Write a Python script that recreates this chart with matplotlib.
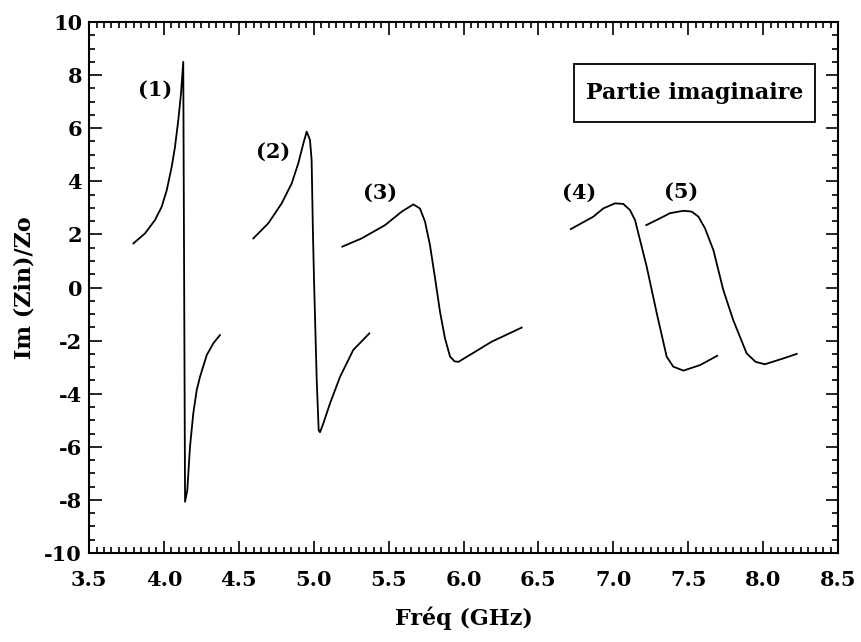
import numpy as np
import matplotlib
matplotlib.use("Agg")
import matplotlib.pyplot as plt
from matplotlib.ticker import MultipleLocator, FormatStrFormatter
from matplotlib.patches import Rectangle

plt.rcParams['font.family'] = ['DejaVu Serif']
plt.rcParams['font.weight'] = 'bold'
plt.rcParams['axes.unicode_minus'] = False

# curves (frequency in GHz, Im(Zin)/Zo)
c1_x = [3.796, 3.874, 3.94, 3.985, 4.019, 4.052, 4.074, 4.096, 4.114, 4.129, 4.135, 4.141,
        4.156, 4.174, 4.196, 4.219, 4.241, 4.286, 4.33, 4.374]
c1_y = [1.66, 2.04, 2.54, 3.04, 3.67, 4.55, 5.30, 6.31, 7.31, 8.50, 0.28, -8.07,
        -7.63, -6.0, -4.74, -3.86, -3.36, -2.54, -2.1, -1.79]

c2_x = [4.597, 4.697, 4.786, 4.853, 4.897, 4.931, 4.953, 4.975, 4.986, 4.995, 5.002, 5.02,
        5.033, 5.042, 5.064, 5.109, 5.176, 5.264, 5.371]
c2_y = [1.85, 2.42, 3.17, 3.92, 4.68, 5.43, 5.87, 5.56, 4.80, 2.0, 0.28, -3.48,
        -5.37, -5.45, -5.12, -4.36, -3.36, -2.35, -1.73]

c3_x = [5.191, 5.32, 5.476, 5.588, 5.665, 5.709, 5.743, 5.776, 5.81, 5.843, 5.876,
        5.91, 5.94, 5.966, 6.054, 6.188, 6.388]
c3_y = [1.54, 1.85, 2.35, 2.86, 3.13, 2.98, 2.48, 1.6, 0.35, -0.91, -1.91,
        -2.6, -2.78, -2.8, -2.5, -2.04, -1.51]

c4_x = [6.716, 6.867, 6.933, 7.011, 7.066, 7.111, 7.145, 7.223, 7.29, 7.356, 7.4,
        7.468, 7.58, 7.694]
c4_y = [2.2, 2.67, 2.98, 3.17, 3.15, 2.92, 2.54, 0.78, -0.97, -2.6, -2.98,
        -3.13, -2.92, -2.57]

c5_x = [7.22, 7.334, 7.378, 7.468, 7.523, 7.568, 7.612, 7.668, 7.734, 7.80, 7.89,
        7.95, 8.012, 8.135, 8.224]
c5_y = [2.35, 2.67, 2.80, 2.89, 2.86, 2.67, 2.23, 1.41, -0.09, -1.22, -2.48,
        -2.8, -2.89, -2.67, -2.5]

curve_labels = ["(1)", "(2)", "(3)", "(4)", "(5)"]
label_x = [3.94, 4.73, 5.44, 6.77, 7.45]
label_y = [7.44, 5.12, 3.55, 3.55, 3.61]

fig = plt.figure(figsize=(8.61, 6.42), dpi=100)
ax = fig.add_axes([0.1034, 0.1386, 0.8699, 0.8271])

for xs, ys in [(c1_x, c1_y), (c2_x, c2_y), (c3_x, c3_y), (c4_x, c4_y), (c5_x, c5_y)]:
    ax.plot(xs, ys, color='black', lw=1.3, solid_joinstyle='round')

for lab, lx, ly in zip(curve_labels, label_x, label_y):
    ax.text(lx, ly, lab, ha='center', va='center', fontsize=15, fontweight='bold')

# framed title box
ax.add_patch(Rectangle((0.6475, 0.8117), 0.3218, 0.1092, transform=ax.transAxes,
                       fill=False, edgecolor='black', lw=1.3))
ax.text(0.808, 0.866, "Partie imaginaire", transform=ax.transAxes,
        ha='center', va='center', fontsize=16, fontweight='bold')

ax.set_xlim(3.5, 8.5)
ax.set_ylim(-10, 10)
ax.xaxis.set_major_locator(MultipleLocator(0.5))
ax.xaxis.set_minor_locator(MultipleLocator(0.05))
ax.xaxis.set_major_formatter(FormatStrFormatter('%.1f'))
ax.yaxis.set_major_locator(MultipleLocator(2))
ax.yaxis.set_minor_locator(MultipleLocator(0.5))

ax.tick_params(which='both', direction='in', top=True, right=True, width=1.2)
ax.tick_params(which='major', length=9)
ax.tick_params(which='minor', length=4)
ax.tick_params(axis='x', which='major', labelsize=15, pad=12)
ax.tick_params(axis='y', which='major', labelsize=15, pad=5)
for lbl in ax.get_xticklabels() + ax.get_yticklabels():
    lbl.set_fontweight('bold')
for s in ax.spines.values():
    s.set_linewidth(1.5)

ax.set_xlabel("Fréq (GHz)", fontsize=16, fontweight='bold', labelpad=12)
ax.set_ylabel("Im (Zin)/Zo", fontsize=16, fontweight='bold', labelpad=6)

fig.savefig("out.png", dpi=100)
